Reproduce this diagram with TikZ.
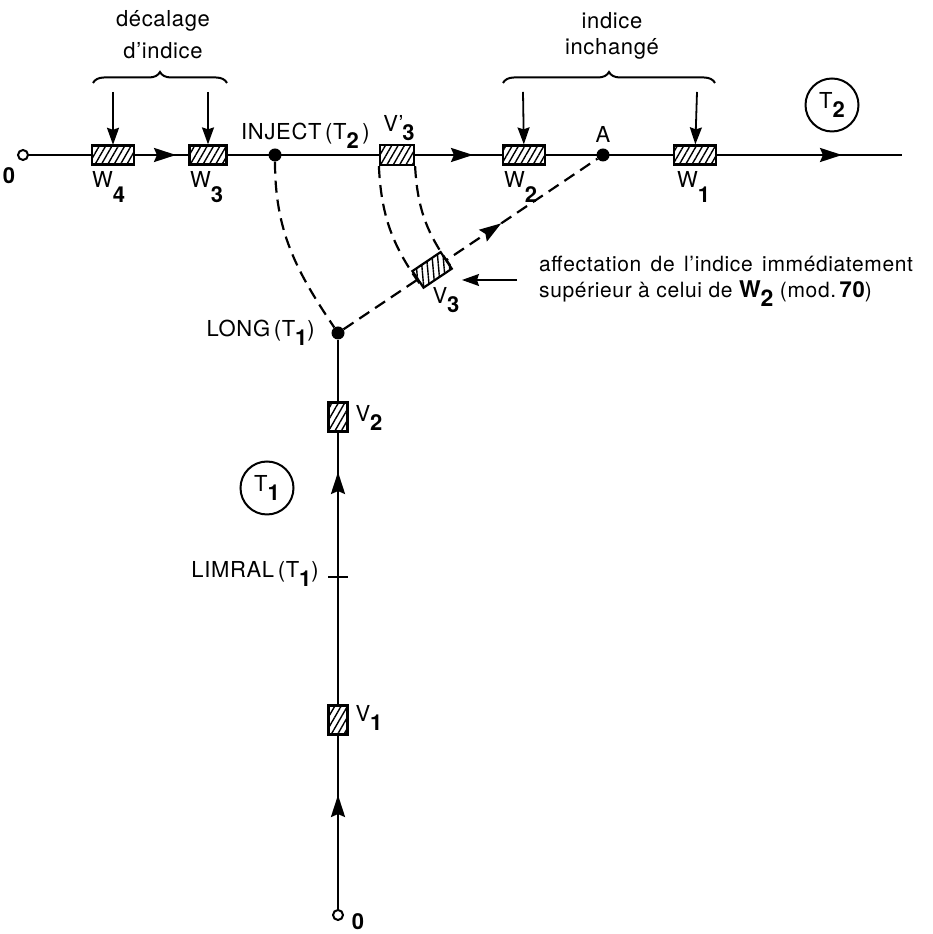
\documentclass[tikz,border=0pt]{standalone}
\usepackage{fontspec}
\setmainfont{TeX Gyre Heros}[LetterSpace=3]
\usetikzlibrary{arrows.meta,decorations.pathreplacing,decorations.markings,patterns.meta}
\newcommand{\lsub}[1]{\raisebox{-0.4em}{\bfseries #1}}
\newcommand{\wsub}[1]{\raisebox{-0.65em}{\bfseries #1}}
\begin{document}
\begin{tikzpicture}[x=1pt,y=1pt,
  every node/.style={font=\fontsize{22}{27}\selectfont},
  mainline/.style={line width=2.5pt},
  dashline/.style={line width=2.2pt, dash pattern=on 12pt off 7pt},
  smalltip/.style={line width=1.8pt,-{Stealth[length=17pt,width=12pt,inset=2pt]}},
  midarrow/.style={postaction={decorate, decoration={markings,
      mark=at position #1 with {\arrow{Stealth[length=22pt,width=14pt,inset=3pt]}}}}},
  hbox/.style={draw, line width=2.2pt, inner sep=0pt, preaction={fill=white},
      pattern={Lines[angle=60,distance=5.5pt,line width=1.4pt]}},
  wbox/.style={hbox, minimum width=42pt, minimum height=19pt},
  vbox/.style={hbox, minimum width=19pt, minimum height=29pt},
  dot/.style={circle, fill, inner sep=0pt, minimum size=13pt},
  ocirc/.style={circle, draw, fill=white, line width=2pt, inner sep=0pt, minimum size=10pt},
  tcirc/.style={circle, draw, line width=2pt, inner sep=0pt, minimum size=53pt},
  bracestyle/.style={line width=2pt, decorate, decoration={brace, amplitude=11pt}},
  zero/.style={font=\fontsize{22}{27}\selectfont\bfseries, inner sep=0pt},
  wlab/.style={anchor=base west, inner sep=0pt}
]
\useasboundingbox (0,0) rectangle (932,934);

% ---- horizontal track T2
\node[ocirc] (o1) at (23,779) {};
\coordinate (tend) at (902,779);
\draw[mainline, midarrow=147pt, midarrow=444pt, midarrow=813pt] (o1) -- (tend);
\node[wbox] (w4) at (113,779) {};
\node[wbox, minimum width=37pt] (w3) at (208,779) {};
\node[wbox, minimum width=34pt, minimum height=20pt] (v3p) at (397,779) {};
\node[wbox] (w2) at (524,779) {};
\node[wbox] (w1) at (695,779) {};
\node[dot] (inj) at (275,779) {};
\node[dot] (A) at (603,779) {};

% ---- vertical track T1
\node[ocirc] (o2) at (338,19) {};
\node[dot] (long) at (338,601) {};
\draw[mainline, midarrow=114pt, midarrow=437pt] (o2) -- (long);
\node[vbox] (v2) at (338,517) {};
\node[vbox] (v1) at (338,214) {};
\coordinate (lim) at (338,357);
\draw[mainline] (lim) ++(-10,0) -- ++(20,0);

% ---- dashed connections
\draw[dashline] (inj) to[out=-90, in=124] (long);
\draw[dashline, midarrow=190pt] (long) -- (A);
\node[wbox, minimum width=34pt, minimum height=20pt, rotate=33.9,
      pattern={Lines[angle=95,distance=5.5pt,line width=1.4pt]}] (v3) at (432.1,664.1) {};
\draw[dashline] (v3p.south west) to[out=272.6, in=126.5] (v3.south west);
\draw[dashline] (v3p.south east) to[out=273, in=127] (v3.south east);

% ---- braces and down arrows
\draw[bracestyle] (93,851) -- (227,851);
\draw[bracestyle] (503,851) -- (715,851);
\node (t-dec1) at (163,913) {décalage};
\node (t-dec2) at (163,883) {d’indice};
\node (t-inc1) at (612,913) {indice};
\node (t-inc2) at (612,885) {inchangé};
\coordinate (a4) at (113,842);
\coordinate (a3) at (208,842);
\coordinate (a2) at (523,842);
\coordinate (a1) at (697,842);
\draw[smalltip] (a4) -- (w4);
\draw[smalltip] (a3) -- (w3);
\draw[smalltip] (a2) -- (w2);
\draw[smalltip] (a1) -- (w1);

% ---- labels
\node[zero] (l0a) at (9,758) {0};
\node[zero] (l0b) at (358,12) {0};
\node[wlab] (lw4) at (92,746) {W\wsub{4}};
\node[wlab] (lw3) at (190,746) {W\wsub{3}};
\node[wlab] (lw2) at (504,746) {W\wsub{2}};
\node[wlab] (lw1) at (677,746) {W\wsub{1}};
\node[anchor=base west, inner sep=0pt] (linj) at (241,794) {INJECT\,(T\lsub{2}\,)};
\node (lv3p) at (399,806) {V’\kern-0.05em\lsub{3}};
\node (lA) at (603,800) {A};
\node (lv3) at (446,634) {V\lsub{3}};
\node[anchor=base east, inner sep=0pt] (llong) at (315,597) {LONG\,(T\lsub{1})};
\node[anchor=base east, inner sep=0pt] (llim) at (319,356) {LIMRAL\,(T\lsub{1})};
\node[anchor=west] (lv2) at (352,516) {V\lsub{2}};
\node[anchor=west] (lv1) at (352,216) {V\lsub{1}};
\node[tcirc] (t2) at (832,829) {T\lsub{2}};
\node[tcirc] (t1) at (267,446) {T\lsub{1}};

% ---- annotation
\node[anchor=north west, align=left, inner sep=0pt,
      font=\fontsize{21}{26}\selectfont] (note) at (539,678)
  {\spaceskip=0.45em affectation de l’indice immédiatement\\
   supérieur à celui de {\fontsize{23}{26}\selectfont\bfseries W\lsub{2}} (mod.\,{\fontsize{22}{26}\selectfont\bfseries 70})};
\coordinate (ns) at (517,654);
\coordinate (nt) at (462,654);
\draw[smalltip, line width=1.4pt] (ns) -- (nt);
\end{tikzpicture}
\end{document}
